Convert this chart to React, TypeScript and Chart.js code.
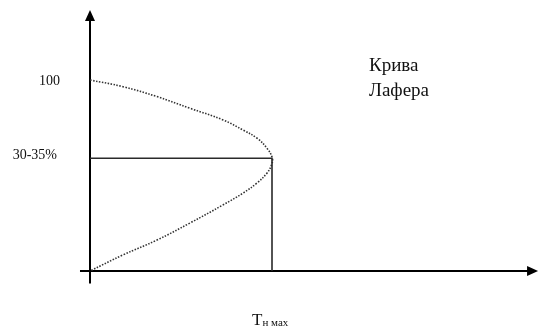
import React, { useEffect, useRef } from "react";
import { Chart, registerables } from "chart.js";

Chart.register(...registerables);

// Laffer curve: x = tax revenue (peak revenue = 100), y = tax rate (top = 100)
const curveX = [0, 18.1, 36.8, 54.9, 73.1, 84.1, 91.8, 97.3, 100.2, 99.7, 97.3, 91.8, 84.1, 73.1, 54.9, 36.8, 18.1, 0];
const curveY = [100, 96.5, 91.3, 85.2, 79.1, 73.8, 69.5, 64.2, 59.0, 55.5, 51.3, 46.1, 40.8, 34.6, 25.1, 16.2, 8.4, 0];

const peakRevenue = 100;
const peakRate = 59;

const yTickValues = [100, peakRate];
const yTickLabels = ["100", "30-35%"];

const xAxisLabel = "Т";
const xAxisSub = "н мах";
const curveTitle = ["Крива", "Лафера"];

// axis extents (data units)
const xAxisFrom = -5.5;
const xAxisTo = 246.2;
const yAxisFrom = -6.5;
const yAxisTo = 136.6;

const FONT = '"Liberation Serif", "Times New Roman", serif';

const axesPlugin = {
  id: "axesPlugin",
  beforeDatasetsDraw(chart: any) {
    const { ctx, scales } = chart;
    const xs = scales.x;
    const ys = scales.y;
    const x0 = xs.getPixelForValue(0);
    const y0 = ys.getPixelForValue(0);
    ctx.save();
    ctx.strokeStyle = "#000";
    ctx.fillStyle = "#000";
    ctx.lineWidth = 2;
    // x axis
    const xl = xs.getPixelForValue(xAxisFrom);
    const xr = xs.getPixelForValue(xAxisTo);
    ctx.beginPath();
    ctx.moveTo(xl, y0);
    ctx.lineTo(xr - 8, y0);
    ctx.stroke();
    ctx.beginPath();
    ctx.moveTo(xr, y0);
    ctx.lineTo(xr - 11, y0 - 5);
    ctx.lineTo(xr - 11, y0 + 5);
    ctx.closePath();
    ctx.fill();
    // y axis
    const yb = ys.getPixelForValue(yAxisFrom);
    const yt = ys.getPixelForValue(yAxisTo);
    ctx.beginPath();
    ctx.moveTo(x0, yb);
    ctx.lineTo(x0, yt + 8);
    ctx.stroke();
    ctx.beginPath();
    ctx.moveTo(x0, yt);
    ctx.lineTo(x0 - 5, yt + 11);
    ctx.lineTo(x0 + 5, yt + 11);
    ctx.closePath();
    ctx.fill();
    ctx.restore();
  },
  afterDraw(chart: any) {
    const { ctx, scales } = chart;
    const xs = scales.x;
    const ys = scales.y;
    const x0 = xs.getPixelForValue(0);
    const y0 = ys.getPixelForValue(0);
    ctx.save();
    ctx.fillStyle = "#111";
    ctx.textBaseline = "alphabetic";
    // y tick labels
    ctx.font = `14px ${FONT}`;
    ctx.textAlign = "right";
    ctx.fillText(yTickLabels[0], x0 - 30, ys.getPixelForValue(yTickValues[0]) + 5);
    ctx.fillText(yTickLabels[1], x0 - 33, ys.getPixelForValue(yTickValues[1]) + 1);
    // curve title
    ctx.textAlign = "left";
    ctx.font = `19px ${FONT}`;
    const tx = xs.getPixelForValue(153.3);
    const ty = ys.getPixelForValue(104.7);
    ctx.fillText(curveTitle[0], tx, ty);
    ctx.fillText(curveTitle[1], tx, ty + 24.5);
    // x axis label
    const lx = xs.getPixelForValue(peakRevenue) - 20;
    const ly = y0 + 54;
    ctx.font = `17px ${FONT}`;
    ctx.fillText(xAxisLabel, lx, ly);
    const w = ctx.measureText(xAxisLabel).width;
    ctx.font = `11px ${FONT}`;
    ctx.fillText(xAxisSub, lx + w, ly + 1);
    ctx.restore();
  },
};

export default function App() {
  const ref = useRef<HTMLCanvasElement | null>(null);
  useEffect(() => {
    if (!ref.current) return;
    const curve = curveX.map((x, i) => ({ x, y: curveY[i] }));
    const guide = [
      { x: 0, y: peakRate },
      { x: peakRevenue, y: peakRate },
      { x: peakRevenue, y: 0 },
    ];
    const chart = new Chart(ref.current, {
      type: "scatter",
      data: {
        datasets: [
          {
            data: guide,
            showLine: true,
            borderColor: "#2a2a2a",
            borderWidth: 1.6,
            pointRadius: 0,
            tension: 0,
            clip: false as any,
          },
          {
            data: curve,
            showLine: true,
            borderColor: "#333",
            borderWidth: 1.6,
            borderDash: [1.5, 1.5],
            pointRadius: 0,
            tension: 0.4,
            clip: false as any,
          },
        ],
      },
      options: {
        animation: false,
        responsive: false,
        maintainAspectRatio: false,
        layout: { padding: 0 },
        plugins: { legend: { display: false }, tooltip: { enabled: false } },
        scales: {
          x: { type: "linear", display: false, min: -49.45, max: 246.7 },
          y: { type: "linear", display: false, min: -29.32, max: 141.88 },
        },
      },
      plugins: [axesPlugin],
    });
    return () => chart.destroy();
  }, []);
  return (
    <div style={{ position: "fixed", left: 0, top: 0, width: 539, height: 327, background: "#fff" }}>
      <canvas ref={ref} width={539} height={327} style={{ width: 539, height: 327, display: "block" }} />
    </div>
  );
}
